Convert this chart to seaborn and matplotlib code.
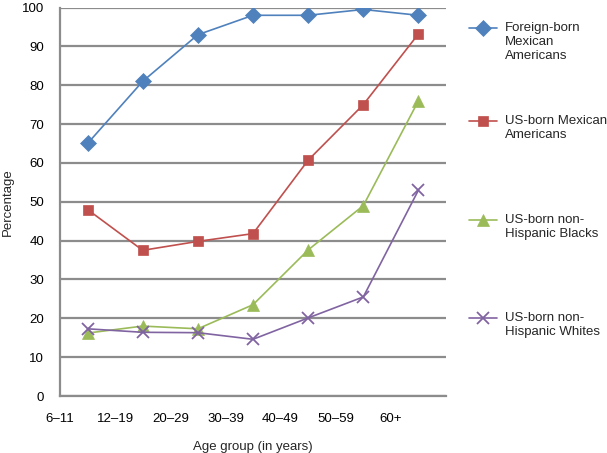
import matplotlib
matplotlib.use("Agg")
from matplotlib import pyplot as plt
from matplotlib.lines import Line2D
import seaborn as sns
import pandas as pd

age_groups = ["6–11", "12–19", "20–29", "30–39", "40–49", "50–59", "60+"]
foreign_mex = [65, 81, 93, 98, 98, 99.5, 98]
us_mex = [48, 37.5, 39.8, 41.8, 60.7, 75, 93.2]
us_black = [16.2, 18, 17.3, 23.5, 37.6, 49, 76]
us_white = [17.3, 16.4, 16.3, 14.6, 20.1, 25.5, 53]

series = [
    ("Foreign-born\nMexican\nAmericans", foreign_mex, "#4F81BD", "D", 8.5),
    ("US-born Mexican\nAmericans", us_mex, "#C0504D", "s", 7.5),
    ("US-born non-\nHispanic Blacks", us_black, "#9BBB59", "^", 8.5),
    ("US-born non-\nHispanic Whites", us_white, "#8064A2", "x", 9),
]

sns.set_style("white")
plt.rcParams["font.family"] = ["Liberation Sans", "DejaVu Sans"]
plt.rcParams["font.size"] = 9.5

fig = plt.figure(figsize=(6.07, 4.53), dpi=100)
ax = fig.add_axes([0.0988, 0.1258, 0.636, 0.8576])

# points sit in the middle of each category slot
pos = [i + 0.5 for i in range(len(age_groups))]
handles = []
for label, vals, color, marker, ms in series:
    df = pd.DataFrame({"x": pos, "y": vals})
    mew = 1.3 if marker == "x" else 0.5
    sns.lineplot(data=df, x="x", y="y", ax=ax, color=color, marker=marker,
                 markersize=ms, markeredgecolor=color, markeredgewidth=mew,
                 linewidth=1.2, legend=False)
    handles.append(Line2D([], [], color=color, marker=marker, markersize=ms,
                          markeredgecolor=color, markeredgewidth=mew, linewidth=1.2))

grid_c = "#8c8c8c"
ax.set_xlim(0, 7)
ax.set_ylim(0, 100)
ax.set_yticks(range(0, 101, 10))
ax.set_xticks(range(8))
ax.set_xticklabels(age_groups + [""])
ax.grid(axis="y", color=grid_c, linewidth=1.6)
ax.grid(axis="x", visible=False)
ax.set_axisbelow(True)
for side in ["top", "right"]:
    ax.spines[side].set_visible(False)
for side in ["left", "bottom"]:
    ax.spines[side].set_color(grid_c)
    ax.spines[side].set_linewidth(1.6)
ax.tick_params(axis="both", direction="out", width=1.6, color=grid_c,
               labelsize=9.5, labelcolor="black")
ax.tick_params(axis="y", length=7.5, pad=4)
ax.tick_params(axis="x", length=6.5, pad=6)
ax.set_ylabel("Percentage", fontsize=9.5, labelpad=6)
ax.set_xlabel("Age group (in years)", fontsize=9.5, labelpad=11)

# legend entries placed separately, marker aligned with first line
tops = [22, 115, 214, 312]
for (label, *_), h, top in zip(series, handles, tops):
    leg = fig.legend([h], [label], loc="upper left",
                     bbox_to_anchor=(469 / 607, 1 - top / 453), bbox_transform=fig.transFigure,
                     frameon=False, borderpad=0, borderaxespad=0, numpoints=1,
                     handlelength=2.1, handletextpad=0.65, handleheight=1.2, fontsize=9.5)
    for col in leg._legend_handle_box.get_children():
        for item in col.get_children():
            item.align = "top"

fig.savefig("out.png", dpi=100)
